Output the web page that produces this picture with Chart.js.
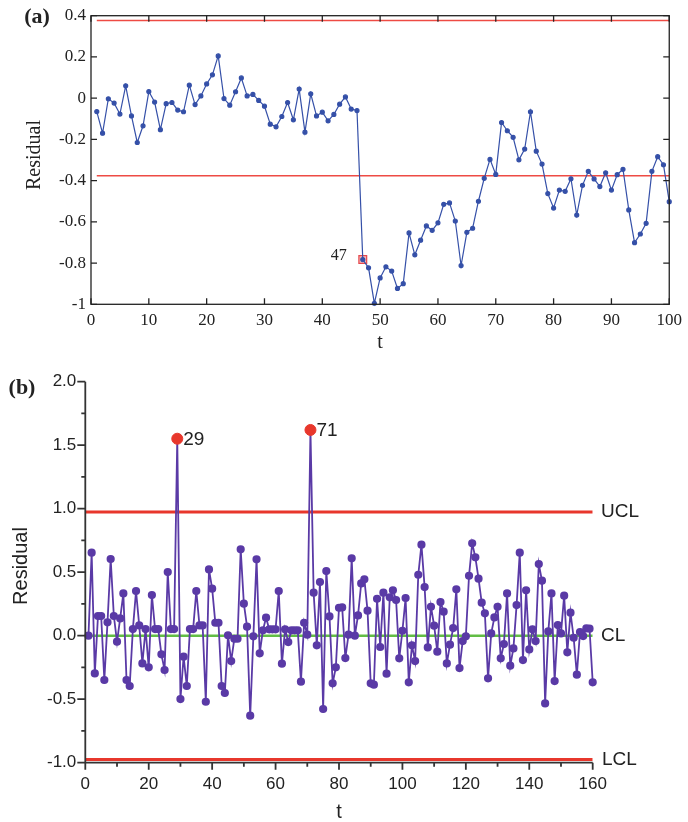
<!DOCTYPE html>
<html>
<head>
<meta charset="utf-8">
<script src="https://cdn.jsdelivr.net/npm/chart.js@4"></script>
<style>
  html, body { margin: 0; padding: 0; background: #fff; }
  body { width: 688px; height: 822px; position: relative; overflow: hidden; }
  canvas { position: absolute; left: 0; }
  #chartA { top: 0; }
  #chartB { top: 360px; }
</style>
</head>
<body>
<canvas id="chartA" width="688" height="360"></canvas>
<canvas id="chartB" width="688" height="462"></canvas>
<script>
// panel (a): residuals, t = 1..100
const residA = [
  -0.065, -0.17, -0.003, -0.024, -0.077, 0.06, -0.086, -0.215, -0.134, 0.032,
  -0.019, -0.153, -0.027, -0.021, -0.058, -0.066, 0.063, -0.031, 0.011, 0.069,
  0.113, 0.205, -0.002, -0.034, 0.031, 0.098, 0.011, 0.018, -0.011, -0.039,
  -0.126, -0.139, -0.089, -0.021, -0.105, 0.044, -0.165, 0.021, -0.086, -0.068,
  -0.11, -0.079, -0.029, 0.006, -0.053, -0.06, -0.783, -0.823, -0.995, -0.872,
  -0.818, -0.839, -0.923, -0.9, -0.654, -0.76, -0.689, -0.62, -0.641, -0.605,
  -0.515, -0.508, -0.596, -0.812, -0.651, -0.631, -0.5, -0.389, -0.297, -0.37,
  -0.118, -0.158, -0.19, -0.299, -0.247, -0.066, -0.257, -0.32, -0.463, -0.533,
  -0.446, -0.452, -0.391, -0.567, -0.423, -0.355, -0.392, -0.429, -0.362, -0.446,
  -0.371, -0.345, -0.542, -0.701, -0.659, -0.607, -0.355, -0.284, -0.323, -0.502
];
const limitA = 0.377;
const flagA = 47;
const xTicksA = [0, 10, 20, 30, 40, 50, 60, 70, 80, 90, 100];
const yTicksA = [0.4, 0.2, 0, -0.2, -0.4, -0.6, -0.8, -1];

// panel (b): residuals, t = 1..160
const residB = [
  0.0, 0.654, -0.297, 0.155, 0.155, -0.349, 0.105, 0.604, 0.155, -0.047,
  0.136, 0.333, -0.349, -0.396, 0.052, 0.352, 0.081, -0.218, 0.052, -0.249,
  0.32, 0.052, 0.052, -0.147, -0.27, 0.501, 0.052, 0.052, 1.551, -0.499,
  -0.165, -0.396, 0.052, 0.052, 0.352, 0.081, 0.081, -0.52, 0.522, 0.37,
  0.102, 0.102, -0.396, -0.451, 0.003, -0.2, -0.024, -0.024, 0.68, 0.252,
  0.071, -0.63, -0.005, 0.601, -0.139, 0.042, 0.142, 0.05, 0.05, 0.05,
  0.352, -0.22, 0.05, -0.05, 0.042, 0.042, 0.042, -0.362, 0.102, 0.008,
  1.62, 0.339, -0.076, 0.423, -0.577, 0.509, 0.152, -0.375, -0.249, 0.22,
  0.223, -0.176, 0.008, 0.609, 0.0, 0.16, 0.412, 0.444, 0.197, -0.375,
  -0.386, 0.291, -0.089, 0.339, -0.299, 0.302, 0.357, 0.281, -0.178, 0.039,
  0.297, -0.367, -0.076, -0.2, 0.48, 0.717, 0.383, -0.092, 0.228, 0.079,
  -0.126, 0.265, 0.189, -0.218, -0.071, 0.06, 0.365, -0.255, -0.042, -0.005,
  0.472, 0.727, 0.617, 0.449, 0.26, 0.176, -0.336, 0.018, 0.144, 0.228,
  -0.178, -0.066, 0.333, -0.236, -0.1, 0.241, 0.654, -0.192, 0.357, -0.108,
  0.05, -0.042, 0.564, 0.433, -0.533, 0.034, 0.333, -0.357, 0.084, 0.018,
  0.315, -0.131, 0.181, -0.016, -0.307, 0.029, -0.003, 0.058, 0.055, -0.367
];
const uclB = 0.975;
const clB = 0;
const lclB = -0.975;
const flagsB = [29, 71];
const xTicksB = [0, 20, 40, 60, 80, 100, 120, 140, 160];
const yTicksB = [2, 1.5, 1, 0.5, 0, -0.5, -1];

const serif = '"Liberation Serif", "DejaVu Serif", serif';
const sans = '"Liberation Sans", Arial, sans-serif';
const ink = '#222';

const pointsOf = vals => vals.map((v, i) => ({ x: i + 1, y: v }));
const hline = (x0, x1, v) => [{ x: x0, y: v }, { x: x1, y: v }];
const useTicks = arr => s => { s.ticks = arr.map(v => ({ value: v })); };

// ---------- (a) ----------
const frameA = {
  id: 'frameA',
  afterDraw(chart) {
    const { ctx, chartArea: a, scales: { x, y } } = chart;
    ctx.save();
    ctx.strokeStyle = '#222';
    ctx.lineWidth = 1.3;
    ctx.strokeRect(a.left, a.top, a.right - a.left, a.bottom - a.top);
    ctx.beginPath();
    x.ticks.forEach(t => {
      const px = x.getPixelForValue(t.value);
      ctx.moveTo(px, a.bottom); ctx.lineTo(px, a.bottom - 6);
      ctx.moveTo(px, a.top); ctx.lineTo(px, a.top + 6);
    });
    y.ticks.forEach(t => {
      const py = y.getPixelForValue(t.value);
      ctx.moveTo(a.left, py); ctx.lineTo(a.left + 6, py);
      ctx.moveTo(a.right, py); ctx.lineTo(a.right - 6, py);
    });
    ctx.stroke();

    ctx.fillStyle = ink;
    ctx.textBaseline = 'middle';
    ctx.textAlign = 'center';
    ctx.font = 'bold 22px ' + serif;
    ctx.fillText('(a)', 37, 17);
    ctx.font = '20px ' + serif;
    ctx.fillText('t', (a.left + a.right) / 2, 343);
    ctx.textAlign = 'right';
    ctx.font = '16px ' + serif;
    ctx.fillText(String(flagA), x.getPixelForValue(flagA) - 16, y.getPixelForValue(residA[flagA - 1]) - 4);
    ctx.translate(35, 155);
    ctx.rotate(-Math.PI / 2);
    ctx.textAlign = 'center';
    ctx.font = '20px ' + serif;
    ctx.fillText('Residual', 0, 0);
    ctx.restore();
  }
};

const blue = '#3550a8';
const redA = '#ee4b44';

new Chart(document.getElementById('chartA'), {
  type: 'line',
  data: {
    datasets: [
      { data: pointsOf(residA), borderColor: blue, backgroundColor: blue, borderWidth: 1.2,
        pointRadius: 2, tension: 0, clip: false },
      { data: [{ x: flagA, y: residA[flagA - 1] }], showLine: false, pointStyle: 'rect',
        pointRadius: 5.5, backgroundColor: 'rgba(240,120,120,0.5)', borderColor: '#e5484d',
        borderWidth: 1.2, clip: false },
      { data: hline(1, 100, limitA), borderColor: redA, borderWidth: 1.5, pointRadius: 0 },
      { data: hline(1, 100, -limitA), borderColor: redA, borderWidth: 1.5, pointRadius: 0 }
    ]
  },
  options: {
    responsive: false,
    animation: false,
    events: [],
    layout: { padding: { top: 15.7, right: 15.7, left: 0, bottom: 0 } },
    plugins: { legend: { display: false }, tooltip: { enabled: false } },
    scales: {
      x: {
        type: 'linear', min: 0, max: 100,
        grid: { display: false, drawTicks: false }, border: { display: false },
        afterBuildTicks: useTicks(xTicksA),
        afterFit: s => { s.height = 55.7; },
        ticks: { font: { family: serif, size: 17 }, color: ink, padding: 6, maxRotation: 0, autoSkip: false }
      },
      y: {
        type: 'linear', min: -1, max: 0.4,
        grid: { display: false, drawTicks: false }, border: { display: false },
        afterBuildTicks: useTicks(yTicksA),
        afterFit: s => { s.width = 91; },
        ticks: { font: { family: serif, size: 17 }, color: ink, padding: 5, autoSkip: false,
          callback: v => String(Math.round(v * 10) / 10) }
      }
    }
  },
  plugins: [frameA]
});

// ---------- (b) ----------
const frameB = {
  id: 'frameB',
  afterDraw(chart) {
    const { ctx, chartArea: a, scales: { x, y } } = chart;
    ctx.save();
    ctx.strokeStyle = '#333';
    ctx.lineWidth = 1.8;
    ctx.beginPath();
    ctx.moveTo(a.left, a.top); ctx.lineTo(a.left, a.bottom); ctx.lineTo(a.right, a.bottom);
    x.ticks.forEach((t, i) => {
      const px = x.getPixelForValue(t.value);
      ctx.moveTo(px, a.bottom); ctx.lineTo(px, a.bottom + 7);
      if (i > 0) {
        const pm = x.getPixelForValue((t.value + x.ticks[i - 1].value) / 2);
        ctx.moveTo(pm, a.bottom); ctx.lineTo(pm, a.bottom + 4);
      }
    });
    y.ticks.forEach((t, i) => {
      const py = y.getPixelForValue(t.value);
      ctx.moveTo(a.left, py); ctx.lineTo(a.left - 8, py);
      if (i > 0) {
        const pm = y.getPixelForValue((t.value + y.ticks[i - 1].value) / 2);
        ctx.moveTo(a.left, pm); ctx.lineTo(a.left - 4, pm);
      }
    });
    ctx.stroke();

    ctx.fillStyle = ink;
    ctx.textBaseline = 'middle';
    ctx.textAlign = 'center';
    ctx.font = 'bold 22px ' + serif;
    ctx.fillText('(b)', 22, 28);
    ctx.font = '20px ' + sans;
    ctx.fillText('t', (a.left + a.right) / 2, 452);
    ctx.textAlign = 'left';
    ctx.font = '19px ' + sans;
    ctx.fillText('UCL', 601, y.getPixelForValue(uclB));
    ctx.fillText('CL', 601, y.getPixelForValue(clB));
    ctx.fillText('LCL', 602, y.getPixelForValue(lclB));
    flagsB.forEach(t => {
      ctx.fillText(String(t), x.getPixelForValue(t) + 6, y.getPixelForValue(residB[t - 1]) + 1);
    });
    ctx.translate(21, 206);
    ctx.rotate(-Math.PI / 2);
    ctx.textAlign = 'center';
    ctx.font = '20px ' + sans;
    ctx.fillText('Residual', 0, 0);
    ctx.restore();
  }
};

const purple = '#5a3aa6';
const redB = '#e8372c';
const green = '#62bd45';

new Chart(document.getElementById('chartB'), {
  type: 'line',
  data: {
    datasets: [
      { data: flagsB.map(t => ({ x: t, y: residB[t - 1] })), showLine: false,
        pointRadius: 5.5, backgroundColor: redB, borderColor: redB, clip: false },
      { data: pointsOf(residB), borderColor: purple, backgroundColor: purple, borderWidth: 1.8,
        pointRadius: 3.2, tension: 0, clip: false },
      { data: hline(0, 160, clB), borderColor: green, borderWidth: 2.5, pointRadius: 0 },
      { data: hline(0, 160, uclB), borderColor: redB, borderWidth: 3, pointRadius: 0 },
      { data: hline(0, 160, lclB), borderColor: redB, borderWidth: 3, pointRadius: 0 }
    ]
  },
  options: {
    responsive: false,
    animation: false,
    events: [],
    layout: { padding: { top: 21.7, right: 95.3, left: 0, bottom: 0 } },
    plugins: { legend: { display: false }, tooltip: { enabled: false } },
    scales: {
      x: {
        type: 'linear', min: 0, max: 160,
        grid: { display: false, drawTicks: false }, border: { display: false },
        afterBuildTicks: useTicks(xTicksB),
        afterFit: s => { s.height = 59.3; },
        ticks: { font: { family: sans, size: 17 }, color: ink, padding: 11, maxRotation: 0, autoSkip: false }
      },
      y: {
        type: 'linear', min: -1, max: 2,
        grid: { display: false, drawTicks: false }, border: { display: false },
        afterBuildTicks: useTicks(yTicksB),
        afterFit: s => { s.width = 85.3; },
        ticks: { font: { family: sans, size: 17 }, color: ink, padding: 9, autoSkip: false,
          callback: v => v.toFixed(1) }
      }
    }
  },
  plugins: [frameB]
});
</script>
</body>
</html>
